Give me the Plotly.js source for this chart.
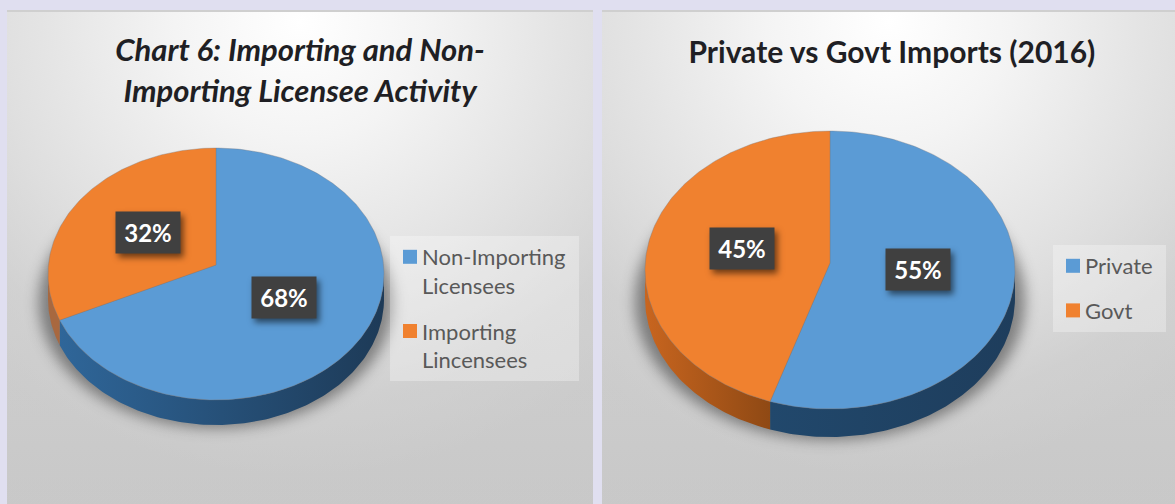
<!DOCTYPE html>
<html>
<head>
<meta charset="utf-8">
<script src="https://cdn.plot.ly/plotly-3.0.1.min.js"></script>
<style>
  html, body { margin: 0; padding: 0; width: 1175px; height: 504px; overflow: hidden; background: #e0dff0; }
  .panel {
    position: absolute; top: 10px; height: 494px; box-sizing: border-box;
    border-top: 2px solid #cfcfcf;
    background:
      radial-gradient(ellipse 82% 92% at 50% 2%, #ffffff 0%, #f4f4f4 26%, #e4e4e4 54%, rgba(208,208,208,0.55) 84%, rgba(190,190,190,0.2) 100%),
      linear-gradient(180deg, #dcdcdc 0%, #cbcbcb 100%);
  }
  #importers { left: 7px; width: 586px; }
  #sources { left: 602px; width: 573px; }
  .scatterlayer .trace:first-child { filter: blur(7px); }
  .annotation-text-g rect { filter: drop-shadow(3px 4px 3px rgba(0,0,0,0.55)); }
</style>
</head>
<body>
<div class="panel" id="importers"></div>
<div class="panel" id="sources"></div>
<script>
// Licensee activity shares (%)
const licenseeLabels = ["Non-Importing<br>Licensees", "Importing<br>Lincensees"];
const licenseeShares = [68, 32];

// Import source shares (%)
const importLabels = ["Private", "Govt"];
const importShares = [55, 45];

const TOP_COLORS = ["#5b9bd5", "#f0812f"];
const FONT = "Lato, Carlito, sans-serif";

// Point where the ray at clockwise angle deg (from 12 o'clock) leaves the disc's rim.
function rimPoint(g, deg) {
  const a = deg * Math.PI / 180;
  const dx = g.rx * Math.sin(a), dy = -g.ry * Math.cos(a);
  const A = (dx / g.rx) ** 2 + (dy / g.ry) ** 2;
  const off = (g.vy - g.cy) / g.ry;
  const B = 2 * off * dy / g.ry;
  const C = off * off - 1;
  const s = (-B + Math.sqrt(B * B - 4 * A * C)) / (2 * A);
  return [g.cx + s * dx, g.vy + s * dy];
}

function arcPoints(g, from, to) {
  const pts = [];
  for (let d = from; d < to; d += 1) pts.push(rimPoint(g, d));
  pts.push(rimPoint(g, to));
  return pts;
}

function buildFigure(div, shares, labels, g, titleText, legendBox) {
  const traces = [];

  // Soft shadow under the disc; blurred through the stylesheet
  const shadow = arcPoints(g, 0, 360);
  traces.push({
    x: shadow.map(p => g.cx + (p[0] - g.cx) * g.shadowScale),
    y: shadow.map(p => p[1] + g.depth + g.shadowDrop),
    mode: "lines", line: { width: 0 }, fill: "toself",
    fillcolor: "rgba(40,40,40,0.5)", hoverinfo: "skip", showlegend: false
  });

  // Wall of the disc, then its top face
  let start = 0;
  const sides = [], tops = [], notes = [];
  shares.forEach((share, i) => {
    const end = start + share * 3.6;
    const arc = arcPoints(g, start, end);
    const lower = arc.filter(p => p[1] >= g.cy);
    if (lower.length > 1) {
      const wall = lower.concat(lower.slice().reverse().map(p => [p[0], p[1] + g.depth]));
      sides.push({
        x: wall.map(p => p[0]), y: wall.map(p => p[1]),
        mode: "lines", line: { width: 0 }, fill: "toself",
        fillgradient: { type: "horizontal", colorscale: [[0, g.walls[i][0]], [1, g.walls[i][1]]] },
        hoverinfo: "skip", showlegend: false
      });
    }
    const wedge = [[g.cx, g.vy]].concat(arc, [[g.cx, g.vy]]);
    tops.push({
      x: wedge.map(p => p[0]), y: wedge.map(p => p[1]),
      mode: "lines", line: { width: 1, color: "rgba(120,120,125,0.35)" }, fill: "toself",
      fillcolor: TOP_COLORS[i], hoverinfo: "skip", showlegend: false
    });

    const mid = (start + end) / 2 * Math.PI / 180;
    notes.push({
      x: g.cx + 0.48 * g.rx * Math.sin(mid),
      y: g.labelY - 0.48 * g.ry * Math.cos(mid),
      xref: "x", yref: "y", text: "<b>" + share + "%</b>", showarrow: false,
      width: 64, height: 41, bgcolor: "#404040", borderpad: 0,
      font: { family: FONT, size: 24, color: "#ffffff" }
    });
    start = end;
  });

  // Legend keys
  const keys = labels.map((name, i) => ({
    x: [null], y: [null], name, mode: "markers", legendgroup: "k" + i,
    marker: { symbol: "square", size: 14, color: TOP_COLORS[i] }, hoverinfo: "skip"
  }));

  const layout = {
    width: div.clientWidth, height: div.clientHeight,
    margin: { l: 0, r: 0, t: 0, b: 0, pad: 0 },
    paper_bgcolor: "rgba(0,0,0,0)", plot_bgcolor: "rgba(0,0,0,0)",
    title: {
      text: titleText, x: g.titleX, xanchor: "center", yref: "container", y: g.titleY, yanchor: "middle",
      font: { family: FONT, size: g.titleSize, color: "#1f1f24", weight: 700 }
    },
    xaxis: { visible: false, range: g.xRange, fixedrange: true },
    yaxis: { visible: false, range: g.yRange, fixedrange: true },
    showlegend: true,
    legend: Object.assign({
      xanchor: "left", yanchor: "top", traceorder: "grouped",
      bgcolor: "rgba(255,255,255,0.3)", borderwidth: 0,
      font: { family: FONT, size: 22, color: "#595959" }
    }, legendBox),
    annotations: notes
  };
  return Plotly.newPlot(div, traces.concat(sides, tops, keys), layout, { staticPlot: true, displayModeBar: false })
    .then(() => {
      // Keys sit beside the first line of their entry, with the text pulled in close
      div.querySelectorAll(".legend .traces").forEach(entry => {
        const lines = entry.querySelectorAll(".legendtext tspan.line").length || 1;
        const symbols = entry.querySelector(".legendsymbols");
        if (symbols && lines > 1) symbols.setAttribute("transform", "translate(0," + (-(lines - 1) * 14.3) + ")");
        const text = entry.querySelector(".legendtext");
        if (text) text.setAttribute("transform", "translate(-8,0)");
      });
    });
}

buildFigure(document.getElementById("importers"), licenseeShares, licenseeLabels,
  { cx: 216, cy: 274, vy: 265, rx: 168, ry: 126, depth: 25, shadowScale: 1.055, shadowDrop: 3, labelY: 265,
    walls: [["#2f6699", "#1d3a57"], ["#a8683f", "#a8683f"]],
    xRange: [7, 593], yRange: [504, 12], titleX: 0.5, titleY: 0.9, titleSize: 31 },
  "<i>Chart 6: Importing and Non-<br>Importing Licensee Activity</i>",
  { x: (390 - 7) / 586, y: 1 - (236 - 12) / 492, tracegroupgap: 14, entrywidth: 152, itemwidth: 30 });

buildFigure(document.getElementById("sources"), importShares, importLabels,
  { cx: 830, cy: 270, vy: 263, rx: 185, ry: 139, depth: 28, shadowScale: 1.055, shadowDrop: 3, labelY: 259,
    walls: [["#21486c", "#1e3d5c"], ["#c8651f", "#8f4914"]],
    xRange: [602, 1175], yRange: [504, 12], titleX: 0.506, titleY: 0.917, titleSize: 30 },
  "Private vs Govt Imports (2016)",
  { x: (1053 - 602) / 573, y: 1 - (245 - 12) / 492, tracegroupgap: 13, entrywidth: 73, itemwidth: 30 });
</script>
</body>
</html>
